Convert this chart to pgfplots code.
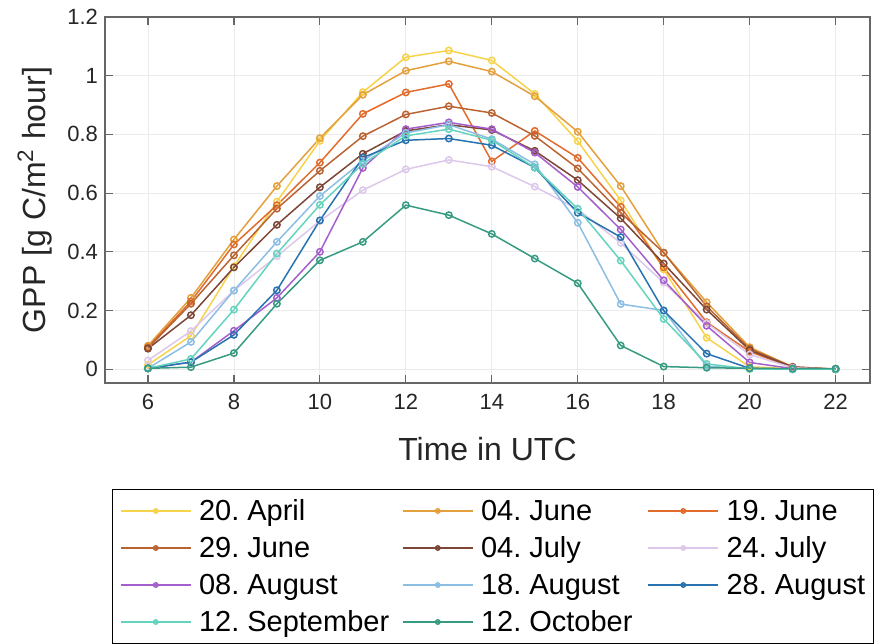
\documentclass[border=0pt]{standalone}
\usepackage{pgfplots}
\pgfplotsset{compat=1.18}
\usepackage{fontspec}
\setmainfont{Liberation Sans}
\usetikzlibrary{calc}
\frenchspacing
\definecolor{cApr}{RGB}{247,211,75}
\definecolor{cJunA}{RGB}{227,160,60}
\definecolor{cJunB}{RGB}{226,108,45}
\definecolor{cJunC}{RGB}{185,100,50}
\definecolor{cJulA}{RGB}{125,70,55}
\definecolor{cJulB}{RGB}{220,200,235}
\definecolor{cAugA}{RGB}{165,95,205}
\definecolor{cAugB}{RGB}{140,190,228}
\definecolor{cAugC}{RGB}{40,115,175}
\definecolor{cSep}{RGB}{100,212,190}
\definecolor{cOct}{RGB}{55,155,130}
\newcommand{\lent}[2]{\makebox[#1][l]{\rule[-3.5pt]{0pt}{14.5pt}#2}}
\pgfplotstableread{
h   apr   junA  junB  junC  julA  julB  augA  augB  augC  sep   oct
6   0.015 0.080 0.075 0.072 0.070 0.030 0.003 0.003 0.003 0.003 0.003
7   0.114 0.243 0.231 0.223 0.184 0.130 0.024 0.093 0.024 0.035 0.007
8   0.350 0.442 0.425 0.388 0.347 0.268 0.131 0.268 0.117 0.203 0.055
9   0.571 0.624 0.559 0.547 0.492 0.385 0.243 0.434 0.269 0.394 0.223
10  0.778 0.787 0.704 0.676 0.620 0.505 0.400 0.590 0.507 0.560 0.371
11  0.944 0.935 0.870 0.794 0.734 0.610 0.686 0.710 0.721 0.700 0.434
12  1.063 1.017 0.943 0.868 0.812 0.681 0.818 0.805 0.780 0.795 0.559
13  1.086 1.049 0.972 0.896 0.833 0.713 0.841 0.833 0.786 0.818 0.525
14  1.052 1.014 0.708 0.873 0.815 0.690 0.818 0.784 0.763 0.780 0.461
15  0.938 0.930 0.812 0.795 0.744 0.622 0.738 0.698 0.687 0.687 0.377
16  0.777 0.809 0.720 0.684 0.644 0.545 0.621 0.499 0.533 0.547 0.293
17  0.575 0.624 0.553 0.533 0.514 0.430 0.476 0.222 0.450 0.370 0.081
18  0.340 0.397 0.347 0.397 0.360 0.295 0.303 0.200 0.200 0.171 0.009
19  0.107 0.228 0.160 0.214 0.203 0.157 0.148 0.010 0.053 0.018 0.005
20  0.008 0.075 0.060 0.070 0.065 0.050 0.023 0.002 0.003 0.001 0.003
21  0.002 0.008 0.005 0.008 0.007 0.005 0.002 0.000 0.000 0.000 0.002
22  0.000 0.000 0.000 0.000 0.000 0.000 0.000 0.000 0.000 0.000 0.002
}\gpp
\begin{document}
\begin{tikzpicture}
\begin{axis}[
  width=382.5pt, height=183pt, scale only axis,
  xmin=5, xmax=22.8, ymin=-0.047, ymax=1.2,
  xtick={6,8,...,22}, ytick={0,0.2,0.4,0.6,0.8,1,1.2},
  /pgf/number format/assume math mode=true,
  ticklabel style={font=\fontsize{11}{13}\selectfont, text=black!85},
  xticklabel style={yshift=-2pt},
  grid=major, major grid style={color=black!8, line width=0.4pt},
  axis line style={color=black!60, line width=0.6pt},
  tick style={color=black!60, line width=0.6pt},
  tick pos=both, tick align=inside, major tick length=4pt,
  xlabel={Time in UTC}, ylabel={GPP [g C/m\textsuperscript{2} hour]},
  xlabel style={font=\fontsize{16}{18}\selectfont, text=black!85, at={(axis description cs:0.5,-0.18)}, anchor=center},
  ylabel style={font=\fontsize{16}{18}\selectfont, text=black!85, at={(axis description cs:-0.0915,0.5)}, anchor=center},
  every axis plot/.append style={line width=0.75pt, mark=o, mark size=1.6pt},
  legend image code/.code={\draw[mark repeat=2,mark phase=2,#1,mark size=1.1pt] plot coordinates {(0pt,0pt) (17.5pt,0pt) (35pt,0pt)};},
  legend columns=3,
  legend style={at={(axis description cs:0.00915,-0.2896)}, anchor=north west,
    font=\fontsize{14.5}{16}\selectfont, draw=black, line width=0.5pt, fill=white,
    inner xsep=3.75pt, inner ysep=4.5pt, row sep=6pt,
    cells={anchor=west},
    nodes={inner sep=0pt},
    /tikz/every odd column/.append style={column sep=3.75pt},
    /tikz/every even column/.append style={column sep=0pt}},
]
\addplot[color=cApr, mark options={solid, fill=cApr, fill opacity=0.35}] table[x=h,y=apr]{\gpp};
\addlegendentry{\lent{101.5pt}{20. April}}
\addplot[color=cJunA, mark options={solid, fill=cJunA, fill opacity=0.35}] table[x=h,y=junA]{\gpp};
\addlegendentry{\lent{83.25pt}{04. June}}
\addplot[color=cJunB, mark options={solid, fill=cJunB, fill opacity=0.35}] table[x=h,y=junB]{\gpp};
\addlegendentry{\lent{69.5pt}{19. June}}
\addplot[color=cJunC, mark options={solid, fill=cJunC, fill opacity=0.35}] table[x=h,y=junC]{\gpp};
\addlegendentry{\lent{101.5pt}{29. June}}
\addplot[color=cJulA, mark options={solid, fill=cJulA, fill opacity=0.35}] table[x=h,y=julA]{\gpp};
\addlegendentry{\lent{83.25pt}{04. July}}
\addplot[color=cJulB, mark options={solid, fill=cJulB, fill opacity=0.35}] table[x=h,y=julB]{\gpp};
\addlegendentry{\lent{69.5pt}{24. July}}
\addplot[color=cAugA, mark options={solid, fill=cAugA, fill opacity=0.35}] table[x=h,y=augA]{\gpp};
\addlegendentry{\lent{101.5pt}{08. August}}
\addplot[color=cAugB, mark options={solid, fill=cAugB, fill opacity=0.35}] table[x=h,y=augB]{\gpp};
\addlegendentry{\lent{83.25pt}{18. August}}
\addplot[color=cAugC, mark options={solid, fill=cAugC, fill opacity=0.35}] table[x=h,y=augC]{\gpp};
\addlegendentry{\lent{69.5pt}{28. August}}
\addplot[color=cSep, mark options={solid, fill=cSep, fill opacity=0.35}] table[x=h,y=sep]{\gpp};
\addlegendentry{\lent{101.5pt}{12. September}}
\addplot[color=cOct, mark options={solid, fill=cOct, fill opacity=0.35}] table[x=h,y=oct]{\gpp};
\addlegendentry{\lent{83.25pt}{12. October}}
\end{axis}
\pgfresetboundingbox
\path[use as bounding box] ($(current axis.south west)+(-52.5pt,-130pt)$) rectangle ($(current axis.north east)+(3.5pt,8.5pt)$);
\end{tikzpicture}
\end{document}
